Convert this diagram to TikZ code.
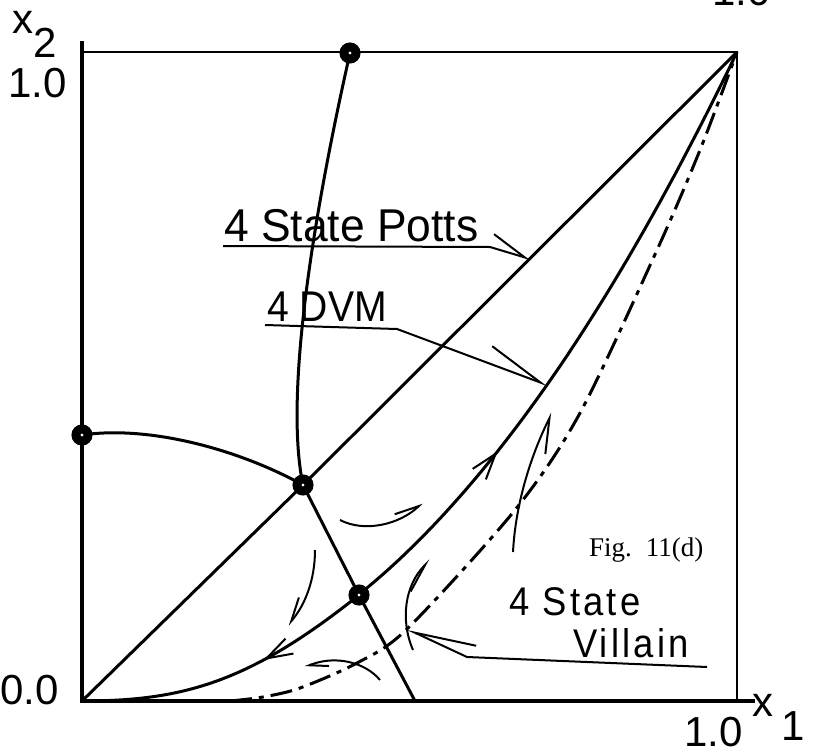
\documentclass[tikz,border=0pt]{standalone}
\usepackage{fontspec}
\setmainfont{Liberation Serif}
\newfontfamily\lab[FakeStretch=0.91]{Liberation Sans}
\newfontfamily\lbp[FakeStretch=0.965]{Liberation Sans}
\newfontfamily\vil[FakeStretch=0.91,LetterSpace=8]{Liberation Sans}
\newfontfamily\axf{Liberation Sans}
\newfontfamily\figf{Liberation Serif}
\usetikzlibrary{arrows.meta,decorations.markings}
\begin{document}
\begin{tikzpicture}[x=1pt,y=-1pt,
  crv/.style={line width=3pt},
  ldr/.style={line width=2pt},
  flow/.style={line width=2pt},
  fp/.style={circle, draw=black, fill=white, line width=9pt, minimum size=12pt, inner sep=0pt},
  lbl/.style={inner sep=0pt, anchor=base west},
  vdash/.style={line width=3pt, dash pattern=on 22pt off 7pt on 5pt off 7pt},
  midarrow/.style={postaction={decorate}, decoration={markings, mark=at position #1 with {\arrow{Straight Barb[length=26pt, angle'=36, line width=2pt]}}}},
]
\useasboundingbox (0,0) rectangle (816,755);
% coordinates
\coordinate (O) at (82,701);
\coordinate (C) at (737,52);
\coordinate (TL) at (82,52);
\coordinate (BR) at (737,701);
\coordinate (Y) at (82,41);
\coordinate (X) at (755,701);
\coordinate (T) at (350,53);
\coordinate (L) at (82,435);
\coordinate (M) at (303,485);
\coordinate (D) at (359,595);
\coordinate (B) at (415,701);
% frame
\draw[line width=3.5pt] (Y) -- (O) -- (X);
\draw[line width=2.5pt] (TL) -- (C) -- (BR);
% Potts diagonal
\draw[crv] (O) -- (M) -- (C);
% critical lines
\draw[crv] (T) .. controls (310,230) and (285,400) .. (M);
\draw[crv] (L) .. controls (150,425) and (240,450) .. (M);
\draw[crv] (M) -- (D) -- (B);
% DVM curve
\draw[crv, midarrow=0.30] plot[domain=0.423:1, samples=50] ({82+655*\x},{701-649*\x^2.1});
\draw[crv, midarrow=0.38] (D) .. controls (249,683) and (182,701) .. (O);
% Villain curve
\draw[vdash] plot[smooth] coordinates {(230,701) (263,697) (300,688) (357,663) (407,629) (515,510) (580,413) (657,250) (700,150) (737,52)};
% flow arrows
\draw[flow, -{Straight Barb[left, length=23pt, angle'=50]}] (340,520) .. controls (365,533) and (400,524) .. (422,503);
\draw[flow, -{Straight Barb[right, length=23pt, angle'=45]}] (315,550) .. controls (315,580) and (305,605) .. (288,625);
\draw[flow, -{Straight Barb[left, length=18pt, angle'=48]}] (380,680) .. controls (365,662) and (335,655) .. (305,667);
\draw[flow, -{Straight Barb[right, length=34pt, angle'=40]}] (513,552) .. controls (516,495) and (536,445) .. (552,413);
\draw[flow, -{Straight Barb[right, length=29pt, angle'=33]}] (413,650) .. controls (400,620) and (405,585) .. (430,560);
% leaders
\draw[ldr, -{Straight Barb[left, length=36pt, angle'=41]}] (223,246) -- (490,247) -- (530,259);
\draw[ldr, -{Straight Barb[left, length=58pt, angle'=33]}] (265,325) -- (397,329) -- (547,385);
\draw[ldr, -{Straight Barb[right, length=61pt, angle'=26]}] (707,667) -- (467,657) -- (407,629);
% fixed points
\node[fp] (Tn) at (T) {};
\node[fp] (Ln) at (L) {};
\node[fp] (Mn) at (M) {};
\node[fp] (Dn) at (D) {};
% labels
\node[lbl] (potts) at (224,241) {\lbp\fontsize{46}{50}\selectfont 4 State Potts};
\node[lbl] (dvm) at (267,321) {\lab\fontsize{43}{48}\selectfont 4 DVM};
\node[lbl] (vs) at (509,615) {\vil\fontsize{40}{44}\selectfont 4 State};
\node[lbl] (vl) at (573,657) {\vil\fontsize{40}{44}\selectfont Villain};
\node[lbl] (fig) at (589,556) {\figf\fontsize{27}{30}\selectfont Fig.\hspace{14pt}11(d)};
\node[lbl] (x2) at (12,33) {\axf\fontsize{42}{46}\selectfont x\raisebox{-24pt}{2}};
\node[lbl] (one2) at (8,97) {\axf\fontsize{42}{46}\selectfont 1.0};
\node[lbl] (zero) at (0,704) {\axf\fontsize{42}{46}\selectfont 0.0};
\node[lbl] (one1) at (684,746) {\axf\fontsize{42}{46}\selectfont 1.0};
\node[lbl] (x1) at (752,716) {\axf\fontsize{42}{46}\selectfont x\hspace{8pt}\raisebox{-24pt}{1}};
\node[lbl] (onetop) at (712,5) {\axf\fontsize{42}{46}\selectfont 1.0};
\end{tikzpicture}
\end{document}
